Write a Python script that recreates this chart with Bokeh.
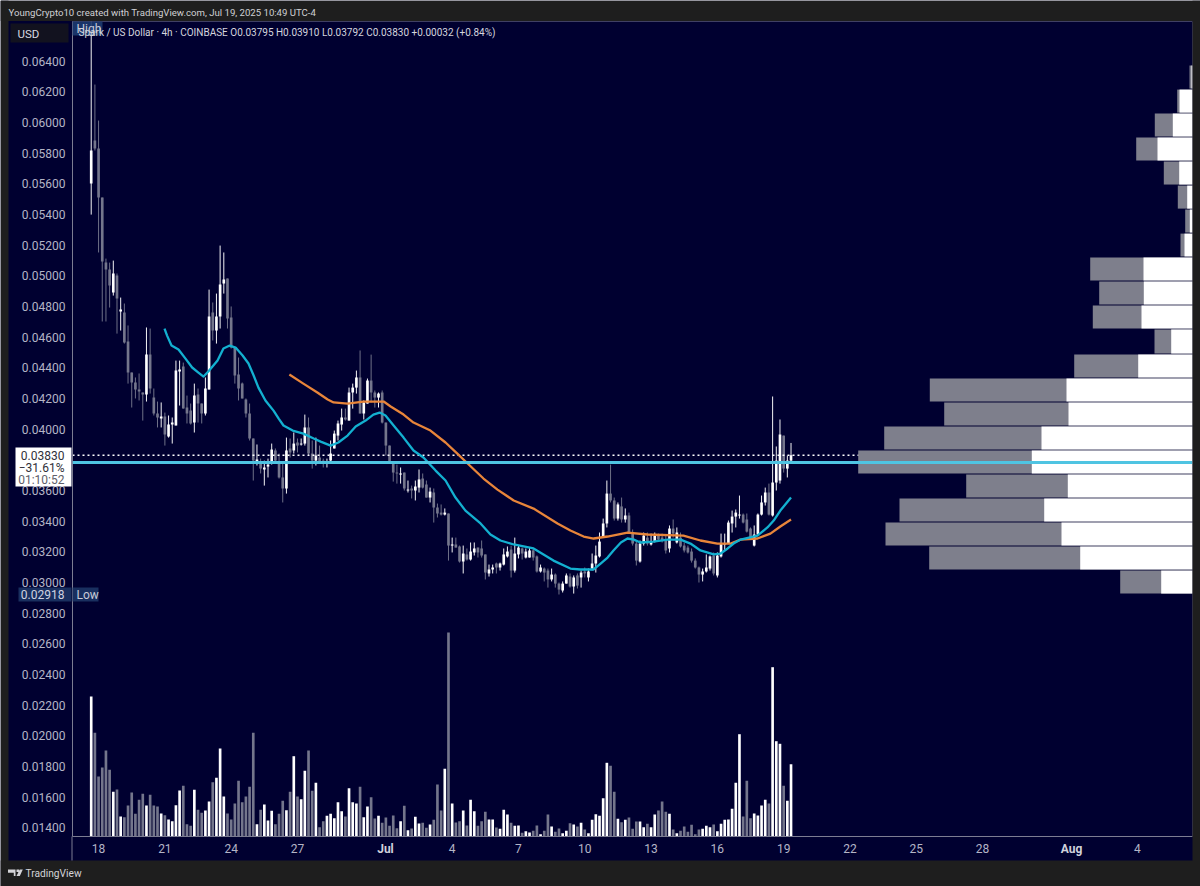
from bokeh.plotting import figure
from bokeh.layouts import column
from bokeh.core.properties import value
from bokeh.models import (Range1d, LinearAxis, FixedTicker, Span, ColumnDataSource, NumeralTickFormatter)
from bokeh.embed import file_html
from bokeh.resources import INLINE

# ---- data (prices in units of 0.00001 USD) ----
opens = [5601,5882,5830,5510,5086,5041,4891,5002,4767,4760,4571,4369,4304,4258,4239,4226,4486,4206,4102,4069,
         4082,3952,4030,4024,4376,4408,4141,4121,4043,4226,4167,4102,4258,4760,4643,4734,4949,4982,4728,4532,
         4356,4297,4193,4102,3939,3789,3789,3737,3756,3776,3861,3782,3685,3613,3874,3861,3913,3900,3906,4011,
         3841,3795,3815,3795,3776,3795,3874,3958,4030,4076,4056,4239,4271,4337,4102,4167,4317,4239,4206,4239,
         4043,3893,3776,3717,3704,3717,3600,3613,3600,3619,3678,3639,3554,3587,3489,3456,3443,3450,3241,3248,
         3235,3137,3183,3150,3196,3228,3222,3183,3059,3085,3124,3098,3117,3170,3215,3078,3183,3222,3163,3163,
         3209,3170,3072,3091,3078,3020,3052,2993,2948,2993,3039,2974,3046,3033,3072,3033,3091,3124,3170,3293,
         3385,3580,3535,3417,3496,3411,3437,3326,3254,3137,3254,3293,3248,3267,3306,3293,3280,3222,3352,3261,
         3293,3241,3228,3202,3143,3098,3052,3072,3091,3176,3046,3170,3248,3254,3385,3430,3437,3443,3411,3352,
         3241,3313,3443,3522,3587,3437,3652,3665,3958,3743,3795]
highs = [6657,6247,6012,5510,5112,5086,5099,5015,4858,4819,4676,4369,4337,4363,4239,4663,4656,4265,4180,4174,
         4108,4089,4076,4447,4447,4434,4219,4167,4297,4265,4167,4337,4910,4826,4884,5197,5152,4982,4800,4532,
         4467,4304,4200,4167,3939,3900,3808,3795,3808,3906,3874,3841,3776,3945,3939,3978,3939,3939,4095,4076,
         3926,3945,3893,3808,3808,3926,3991,4056,4134,4134,4271,4297,4382,4513,4187,4330,4486,4252,4239,4252,
         4043,3893,3776,3769,3750,3717,3665,3632,3665,3737,3711,3665,3619,3613,3515,3509,3483,3450,3293,3293,
         3241,3241,3222,3261,3261,3228,3274,3183,3117,3117,3130,3130,3222,3235,3241,3293,3241,3228,3222,3228,
         3222,3176,3117,3098,3091,3091,3059,3000,3007,3059,3059,3046,3059,3078,3098,3091,3189,3241,3326,3417,
         3665,3769,3554,3522,3554,3483,3456,3346,3274,3274,3326,3326,3319,3326,3319,3319,3306,3372,3411,3359,
         3326,3261,3241,3222,3157,3104,3091,3183,3176,3196,3196,3319,3319,3404,3469,3476,3567,3450,3450,3359,
         3372,3450,3567,3619,3645,4213,3887,4063,3958,3828,3910]
lows = [5399,5817,5152,4702,4702,4793,4871,4623,4643,4558,4297,4141,4200,4187,4056,4180,4232,4089,4011,4011,
        3893,3945,3906,4024,4154,4134,4037,4030,3978,4043,4037,4089,4258,4578,4558,4656,4884,4656,4526,4297,
        4187,4200,4076,3926,3665,3763,3711,3632,3685,3769,3782,3678,3522,3580,3815,3841,3848,3893,3893,3828,
        3743,3763,3776,3750,3750,3789,3874,3926,3991,4056,4056,4134,4232,4102,4063,4167,4174,4141,4141,4037,
        3828,3776,3658,3645,3645,3600,3587,3548,3535,3587,3613,3554,3522,3391,3424,3437,3437,3143,3196,3228,
        3130,3059,3143,3143,3176,3163,3163,3020,3039,3059,3059,3078,3111,3163,3033,3065,3157,3150,3157,3163,
        3143,3065,3065,3007,2967,3007,2967,2922,2935,2993,2967,2928,2961,2967,3033,3007,3078,3065,3163,3293,
        3359,3522,3404,3404,3391,3391,3319,3241,3111,3130,3241,3241,3241,3261,3267,3261,3189,3196,3293,3254,
        3228,3196,3189,3130,3091,3000,3007,3065,3078,3046,3033,3163,3209,3254,3326,3359,3417,3385,3326,3287,
        3235,3306,3437,3502,3437,3430,3600,3645,3717,3685,3792]
closes = [5817,5830,5510,5093,5041,4936,5015,4852,4780,4565,4369,4304,4258,4245,4226,4486,4265,4102,4076,4082,
          3965,4030,4043,4382,4389,4134,4102,4037,4219,4167,4102,4265,4734,4643,4734,4943,4976,4721,4532,4350,
          4265,4200,4102,3939,3795,3802,3743,3750,3769,3867,3795,3685,3613,3861,3848,3906,3893,3906,4011,3841,
          3795,3828,3782,3776,3789,3841,3971,4037,4076,4063,4239,4271,4337,4102,4174,4317,4239,4206,4232,4043,
          3893,3776,3717,3711,3711,3613,3606,3600,3626,3672,3619,3554,3593,3489,3450,3443,3456,3241,3248,3228,
          3137,3189,3150,3202,3222,3196,3176,3065,3085,3098,3098,3124,3183,3202,3078,3189,3228,3189,3202,3209,
          3163,3072,3098,3065,3020,3052,2993,2954,2993,3046,2974,3033,2980,3065,3059,3072,3124,3176,3267,3385,
          3580,3535,3417,3509,3411,3437,3326,3254,3143,3254,3306,3254,3267,3306,3280,3274,3209,3352,3319,3326,
          3235,3209,3196,3143,3098,3052,3072,3098,3170,3059,3176,3254,3254,3391,3430,3456,3443,3391,3332,3293,
          3313,3443,3522,3587,3443,3652,3795,3965,3743,3795,3830]
volumes = [140,103.7,60,69,86,66.7,44.7,47,20,19.3,31,44,22.7,36.7,42.7,31,41.7,31,30,23,
           21.3,17,15.3,31.3,46,50.7,12.3,10.7,46.7,26.7,23.7,26,35,54.3,58.7,88,40,23,17,33,
           55.7,34.3,40,49.7,103.7,12.3,26.7,32,16,25.7,12.3,22.7,35.7,26.3,44.7,80.3,40,37.3,65.7,86,
           45.7,53.7,9.3,15.3,20.7,22.7,18.3,34.3,25.3,20,48.3,34.3,33,49.7,19.3,30,39.3,18,20.7,13.7,
           19,10.7,21,8.3,15.3,30.7,6.3,8,19.7,13,13.7,8.7,12,16.7,52,26,67.7,204,33,14,
           15.3,26,11,36.7,25.3,10.7,15.3,24.7,17,17,9,7.7,26.7,22,13.7,10.7,11,3.7,5.3,4,
           5.7,11,2.3,5.7,22,10,4.7,8,3.3,5.7,13.3,12,10,13.7,7,3.3,16.7,22.3,20.7,38.3,
           73.7,70.7,44.7,17.7,14.3,16.7,19,7.7,15,15,9.3,12.7,9.3,22,26,35,24.7,22.7,7,3.3,
           5.7,10,4.7,11.7,2.3,7,7.7,10.7,9.3,12,5.3,12.7,16.7,17,27.7,53.7,102.3,20,55.7,18.3,
           23,21,31,36.7,33,169.3,95.3,92.7,50.7,35.7,72.3]
ma_fast_idx = [19.9,20.6,21.8,23.7,25.6,27.4,29.1,30.5,31.8,34.3,35.9,37.6,39.2,41.1,42.7,44.1,45.4,47.3,49.5,50.9,
               52.2,54.7,57.6,60.4,62.3,65,67.1,69.6,71.8,74.5,76.6,78.3,79.9,82.1,84.8,87.5,90.2,93.5,96.2,98.9,
               101.6,105.7,108.4,111.1,114.7,120.1,122.8,125.5,130.1,132.8,136.4,138.3,140.2,141.8,143.8,145.6,147.3,149.1,152.6,156.5,
               160,162.7,165.4,169,170.9,172.8,174.4,176.3,180.9,183.6,185.3,187.1,190]
ma_fast = [4656,4610,4545,4519,4460,4402,4369,4343,4376,4447,4526,4545,4532,4480,4428,4350,4271,4187,4121,4069,
           4024,3991,3971,3939,3919,3893,3913,3958,4017,4056,4095,4108,4089,4024,3945,3861,3815,3730,3665,3554,
           3469,3385,3313,3274,3248,3222,3183,3143,3091,3085,3085,3124,3163,3209,3261,3287,3280,3261,3267,3280,
           3280,3254,3209,3183,3189,3222,3254,3280,3306,3359,3404,3469,3554]
ma_slow_idx = [53.8,57.6,61.4,64.2,65.8,69.6,73.9,79.4,81.3,84.8,87.5,92.1,96.2,99.4,102.2,106.5,110.3,114.7,120.1,126.6,
               130.1,133.7,136.4,140.2,145.6,151,160.8,165.4,170,173.6,176.3,180.9,184.4,187.1,190]
ma_slow = [4356,4297,4239,4193,4174,4167,4180,4180,4148,4095,4043,3991,3913,3841,3776,3678,3606,3535,3482,3385,
           3339,3300,3287,3300,3326,3313,3306,3274,3254,3254,3280,3287,3319,3365,3411]
vp_high = [6371,6214,6058,5901,5745,5588,5432,5275,5119,4963,4806,4650,4486,4330,4174,4017,3861,3704,3548,3391,3235,3078]
vp_low  = [6221,6064,5908,5751,5595,5438,5282,5126,4969,4813,4656,4493,4337,4180,4024,3867,3711,3554,3398,3241,3085,2928]
vp_total = [3,15.3,37.7,56.3,28.7,14.7,7.3,12,102.3,93.3,99.7,38,118.3,262.7,248.3,308.3,334.3,226.3,293,307,263.3,72.3]
vp_up = [1,13,19.7,35,13.3,5.3,2.7,8,49,48.7,51,21.3,54.3,126,124,151,160.7,124.7,148.3,131,112.3,31.3]
last_close = 3830
hline_price = 3782
y_ticks = [1400,1600,1800,2000,2200,2400,2600,2800,3000,3200,3400,3600,3800,4000,4200,4400,4600,4800,5000,5200,5400,5600,5800,6000,6200,6400]
x_tick_idx = [2,20,38,56,80,98,116,134,152,170,188,206,224,242,266,284]
x_tick_labels = ["18","21","24","27","","4","7","10","13","16","19","22","25","28","","4"]

NAVY="#000030"; DARK="#1e1e1e"; GREY="#74768c"; WHITE="#ffffff"; TXT="#b4b5c6"; CYAN="#13b0d0"; ORANGE="#e8853a"; HL="#4fc4e2"
FONT="Roboto"
E=1e-5
n=len(opens)
idx=list(range(n))
X0,X1=-5.08,299.0
p=figure(width=1200,height=886,output_backend="svg",toolbar_location=None,
         x_range=Range1d(X0,X1),y_range=Range1d(0.01344,0.06658),
         min_border_left=72,min_border_right=8,min_border_top=21,min_border_bottom=50,
         background_fill_color=NAVY,border_fill_color=NAVY,outline_line_color=None,
         x_axis_type=None,y_axis_type=None,frame_align=False)
p.grid.visible=False
p.extra_y_ranges={"vol":Range1d(0,815)}
p.extra_x_ranges={"vp":Range1d(1120,0)}

ya=LinearAxis(ticker=FixedTicker(ticks=[t*E for t in y_ticks]),formatter=NumeralTickFormatter(format="0.00000"))
ya.major_tick_line_color=None; ya.minor_tick_line_color=None; ya.major_tick_out=0; ya.major_tick_in=0
ya.axis_line_color="#7c7d92"; ya.axis_line_width=1
ya.major_label_text_color=TXT; ya.major_label_text_font=FONT; ya.major_label_text_font_size="12px"; ya.major_label_standoff=7
p.add_layout(ya,"left")
xa=LinearAxis(ticker=FixedTicker(ticks=x_tick_idx),major_label_overrides={t:l for t,l in zip(x_tick_idx,x_tick_labels)})
xa.major_tick_line_color=None; xa.minor_tick_line_color=None; xa.major_tick_out=0; xa.major_tick_in=0
xa.axis_line_color="#7c7d92"; xa.axis_line_width=1
xa.major_label_text_color=TXT; xa.major_label_text_font=FONT; xa.major_label_text_font_size="12px"; xa.major_label_standoff=7
p.add_layout(xa,"below")

colors=[WHITE if c>=o else GREY for o,c in zip(opens,closes)]
src=ColumnDataSource(dict(i=idx,h=[v*E for v in highs],l=[v*E for v in lows],
    top=[max(a,b)*E for a,b in zip(opens,closes)],bot=[min(a,b)*E for a,b in zip(opens,closes)],
    vol=volumes,color=colors))

p.vbar(x="i",width=0.72,bottom=0,top="vol",y_range_name="vol",fill_color="color",line_color=None,source=src)
p.segment(x0="i",x1="i",y0="l",y1="h",line_color="color",line_width=1,line_alpha=0.95,source=src)
p.vbar(x="i",width=0.72,bottom="bot",top="top",fill_color="color",line_color=None,source=src)
p.line([X0,X1],[last_close*E]*2,line_color=WHITE,line_width=1.5,line_dash="2 3")

p.quad(left=[0]*len(vp_total),right=vp_total,bottom=[v*E for v in vp_low],top=[v*E for v in vp_high],
       x_range_name="vp",fill_color="#7e7f8c",line_color=None,level="guide")
p.quad(left=[0]*len(vp_up),right=vp_up,bottom=[v*E for v in vp_low],top=[v*E for v in vp_high],
       x_range_name="vp",fill_color=WHITE,line_color=None,level="guide")

p.line(ma_slow_idx,[v*E for v in ma_slow],line_color=ORANGE,line_width=2.3,line_join="round",level="guide")
p.line(ma_fast_idx,[v*E for v in ma_fast],line_color=CYAN,line_width=2.3,line_join="round",level="guide")
p.add_layout(Span(location=hline_price*E,dimension="width",line_color=HL,line_width=3))

# Transparent layer over the chart for the window chrome and the price tags
c=figure(width=1200,height=886,output_backend="svg",toolbar_location=None,
         x_range=Range1d(0,1200),y_range=Range1d(886,0),
         min_border_left=0,min_border_right=0,min_border_top=0,min_border_bottom=0,
         background_fill_alpha=0,border_fill_alpha=0,outline_line_color=None,
         x_axis_type=None,y_axis_type=None,frame_align=False)
c.grid.visible=False
c.styles={"position":"absolute","left":"0","top":"0","pointer-events":"none"}

def box(x0,y0,x1,y1,color,alpha=1.0):
    c.quad(left=[x0],right=[x1],top=[y0],bottom=[y1],fill_color=color,fill_alpha=alpha,line_color=None)
def label(x,y,text,color=TXT,size=11.5,align="left",style="normal"):
    c.text(x=[x],y=[y],text=[text],text_color=color,text_font=value(FONT),text_font_size=f"{size}px",
           text_align=align,text_baseline="middle",text_font_style=style)

box(0,0,8,886,DARK)
box(1192,0,1200,886,DARK)
box(0,0,1200,20.5,DARK)
box(0,860,1200,886,DARK)
box(71,836,72,860,"#7c7d92")
box(10,23,68,42,"#12121f")
label(17,33,"USD",color="#d8d8e0",size=11.5)
label(8,11.5,"YoungCrypto10 created with TradingView.com, Jul 19, 2025 10:49 UTC-4",color="#d0d0d4",size=9.6)
box(72,21,102,35,"#1c3a70",0.9)
label(76,28,"High",color="#c8cbd8",size=12)
label(78,32,"Spark / US Dollar · 4h · COINBASE  O0.03795  H0.03910  L0.03792  C0.03830  +0.00032 (+0.84%)",color="#d4d5de",size=10)
box(15,447,71,486,WHITE)
label(64,455,"0.03830",color="#30303a",size=12,align="right")
label(64,467,"−31.61%",color="#30303a",size=12,align="right")
label(64,479,"01:10:52",color="#60606a",size=12,align="right")
box(18,587,71,601,"#1a3262",0.95)
box(72,587,98,601,"#1a3262",0.95)
label(64,594,"0.02918",color="#d0d3e0",size=12,align="right")
label(76,594,"Low",color="#c8cbd8",size=12)
label(385,848,"Jul",color="#d0d1dc",size=12,align="center",style="bold")
label(1071,848,"Aug",color="#d0d1dc",size=12,align="center",style="bold")
label(25,873,"TradingView",color="#d4d4d8",size=10.2)
c.patches(xs=[[7.5,15,15,13.3,13.3,11,11,7.5],[16,18.5,18.5,16],[19.2,22.3,19.3,16]],
          ys=[[869,869,875.5,875.5,872.3,872.3,872.3,872.3],[869,869,871.6,871.6],[869,869,875.5,875.5]],
          fill_color="#d4d4d8",line_color=None)

root=column(p,c)
open("out.html","w").write(file_html(root,INLINE))
